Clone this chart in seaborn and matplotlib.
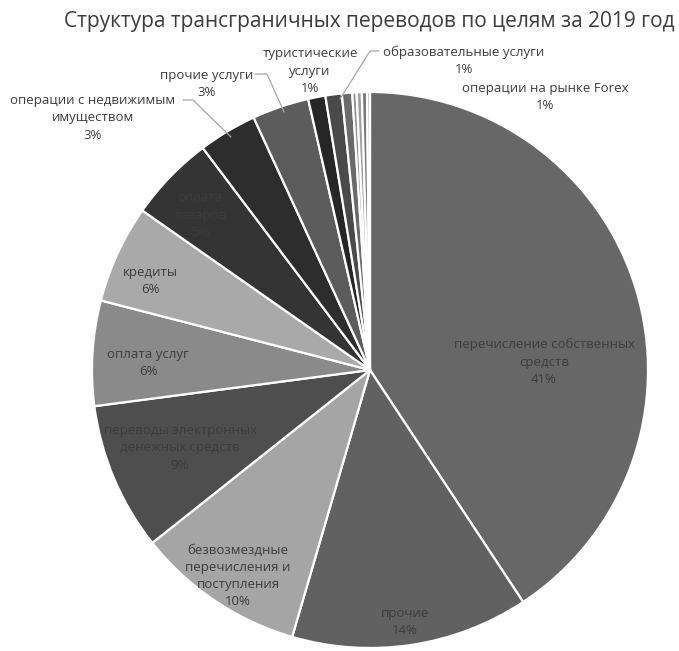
import matplotlib
matplotlib.use("Agg")
import matplotlib.pyplot as plt
import seaborn as sns
import numpy as np

# доли переводов по целям, %, оценка по рисунку (по часовой стрелке от 12 часов)
categories = [
    "перечисление собственных\nсредств",
    "прочие",
    "безвозмездные\nперечисления и\nпоступления",
    "переводы электронных\nденежных средств",
    "оплата услуг",
    "кредиты",
    "оплата\nтоваров",
    "операции с недвижимым\nимуществом",
    "прочие услуги",
    "туристические\nуслуги",
    "образовательные услуги",
    "операции на рынке Forex",
    "", "", "", "",
]
values = [40.7, 13.8, 9.8, 8.6, 6.1, 5.7, 5.0, 3.4, 3.3, 1.0, 0.95, 0.6,
          0.25, 0.3, 0.3, 0.17]
colors = ["#676767", "#616161", "#a5a5a5", "#4e4e4e", "#8a8a8a", "#a9a9a9",
          "#343434", "#2d2d2d", "#5c5c5c", "#262626", "#4a4a4a", "#6a6a6a",
          "#8f8f8f", "#a0a0a0", "#7a7a7a", "#b5b5b5"]

sns.set_style("white")
plt.rcParams["font.family"] = ["Open Sans", "DejaVu Sans"]

W, H = 679, 651
CX, CY, R = 370, 370, 278

fig = plt.figure(figsize=(W / 100, H / 100), dpi=100)
ax = fig.add_axes([(CX - R) / W, (H - CY - R) / H, 2 * R / W, 2 * R / H])
ax.pie(values, colors=colors, startangle=90, counterclock=False,
       wedgeprops=dict(edgecolor="white", linewidth=1.6))
ax.set_xlim(-1, 1)
ax.set_ylim(-1, 1)
ax.set_aspect("auto")
ax.axis("off")


def px(x, y):
    # пиксели картинки -> координаты осей
    return (x - CX) / R, (CY - y) / R


total = sum(values)
pcts = [f"{round(v / total * 100)}%" for v in values]

# центры подписей в пикселях
label_px = [(544, 362), (405, 622), (238, 576), (180, 448), (148, 363),
            (150, 281), (200, 215), (93, 118), (207, 84), (310, 71),
            (464, 61), (545, 97)]

for i, (x, y) in enumerate(label_px):
    tx, ty = px(x, y)
    ax.text(tx, ty, categories[i] + "\n" + pcts[i], ha="center", va="center",
            fontsize=9.5, color="#3c3c3c", linespacing=1.42, clip_on=False)

# выноски
leaders = [
    [(183, 100), (193, 100), (231, 137)],
    [(255, 74), (267, 74), (284, 112)],
    [(379, 51), (370, 51), (340, 99)],
]
for pts in leaders:
    xs, ys = zip(*[px(x, y) for x, y in pts])
    ax.plot(xs, ys, color="#a6a6a6", linewidth=0.9, clip_on=False)

fig.text(369 / W, 1 - 21 / H, "Структура трансграничных переводов по целям за 2019 год",
         ha="center", va="center", fontsize=15, color="#3c3c3c")

fig.savefig("out.png", dpi=100, facecolor="white")
